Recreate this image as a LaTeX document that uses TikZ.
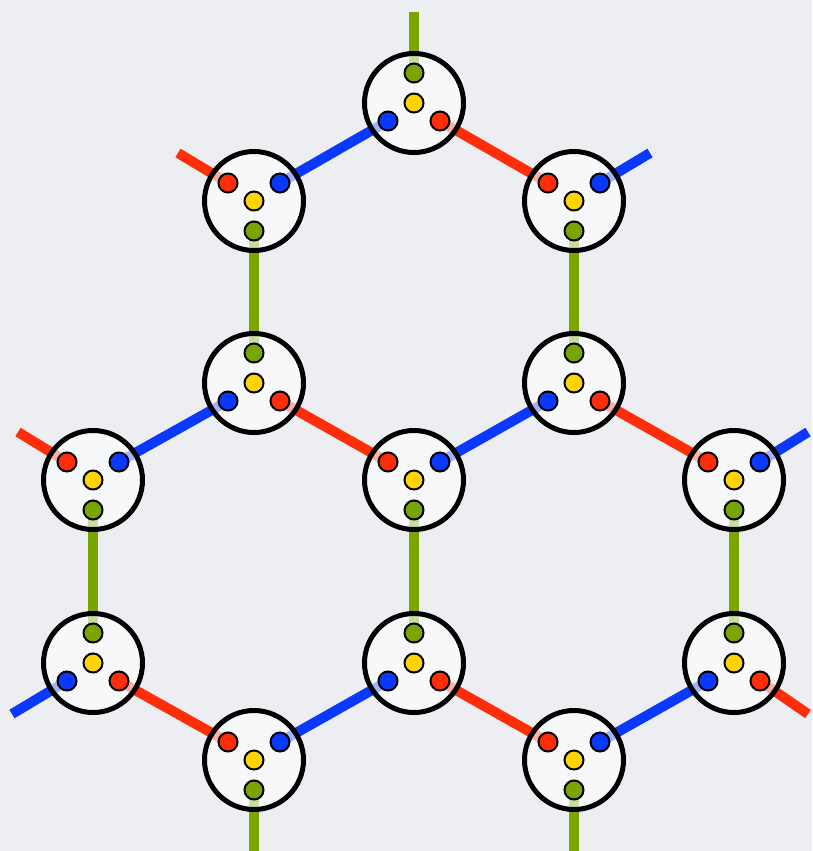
\documentclass[tikz,border=0pt]{standalone}
\definecolor{bgc}{HTML}{ECEEF1}
\definecolor{rc}{HTML}{FF2D0A}
\definecolor{bc}{HTML}{0A38FF}
\definecolor{gc}{HTML}{78A500}
\definecolor{yc}{HTML}{FFD400}
\tikzset{
  bond/.style={line width=10pt},
  site/.style={circle, draw=black, line width=5pt, fill=white, fill opacity=0.62, minimum size=99pt, inner sep=0pt},
  dot/.style={circle, draw=black, line width=2pt, minimum size=19pt, inner sep=0pt},
}
\begin{document}
\begin{tikzpicture}[x=1pt,y=-1pt]
\fill[bgc] (0,0) rectangle (812,851);
\useasboundingbox (0,0) rectangle (812,851);
% A sites: green up, blue lower-left, red lower-right
\foreach \n/\px/\py in {A1/414/103, A2/254/383, A3/574/383, A4/93/663, A5/414/663, A6/734/663} {
  \coordinate (\n) at (\px,\py);
  \coordinate (\n-g) at (\px,\py-30);
  \coordinate (\n-b) at (\px-26,\py+18);
  \coordinate (\n-r) at (\px+26,\py+18);
}
% B sites: green down, red upper-left, blue upper-right
\foreach \n/\px/\py in {B1/254/201, B2/574/201, B3/93/480, B4/414/480, B5/734/480, B6/254/760, B7/574/760} {
  \coordinate (\n) at (\px,\py);
  \coordinate (\n-g) at (\px,\py+30);
  \coordinate (\n-r) at (\px-26,\py-18);
  \coordinate (\n-b) at (\px+26,\py-18);
}
% free ends
\coordinate (e1) at (414,12);
\coordinate (e2) at (178,153);
\coordinate (e3) at (650,153);
\coordinate (e4) at (18,432);
\coordinate (e5) at (808,432);
\coordinate (e6) at (12,714);
\coordinate (e7) at (808,714);
\coordinate (e8) at (254,851);
\coordinate (e9) at (574,851);
% green bonds
\foreach \a/\b in {B1/A2, B2/A3, B3/A4, B4/A5, B5/A6}
  \draw[bond, gc] (\a-g) -- (\b-g);
\draw[bond, gc] (A1-g) -- (e1);
\draw[bond, gc] (B6-g) -- (e8);
\draw[bond, gc] (B7-g) -- (e9);
% blue bonds
\foreach \a/\b in {A1/B1, A2/B3, A3/B4, A5/B6, A6/B7}
  \draw[bond, bc] (\a-b) -- (\b-b);
\draw[bond, bc] (B2-b) -- (e3);
\draw[bond, bc] (B5-b) -- (e5);
\draw[bond, bc] (A4-b) -- (e6);
% red bonds
\foreach \a/\b in {A1/B2, A2/B4, A3/B5, A4/B6, A5/B7}
  \draw[bond, rc] (\a-r) -- (\b-r);
\draw[bond, rc] (B1-r) -- (e2);
\draw[bond, rc] (B3-r) -- (e4);
\draw[bond, rc] (A6-r) -- (e7);
% sites and dots
\foreach \n in {A1,A2,A3,A4,A5,A6,B1,B2,B3,B4,B5,B6,B7} {
  \node[site] (\n-site) at (\n) {};
  \node[dot, fill=yc] (\n-y) at (\n) {};
  \node[dot, fill=gc] (\n-gd) at (\n-g) {};
  \node[dot, fill=bc] (\n-bd) at (\n-b) {};
  \node[dot, fill=rc] (\n-rd) at (\n-r) {};
}
\end{tikzpicture}
\end{document}
